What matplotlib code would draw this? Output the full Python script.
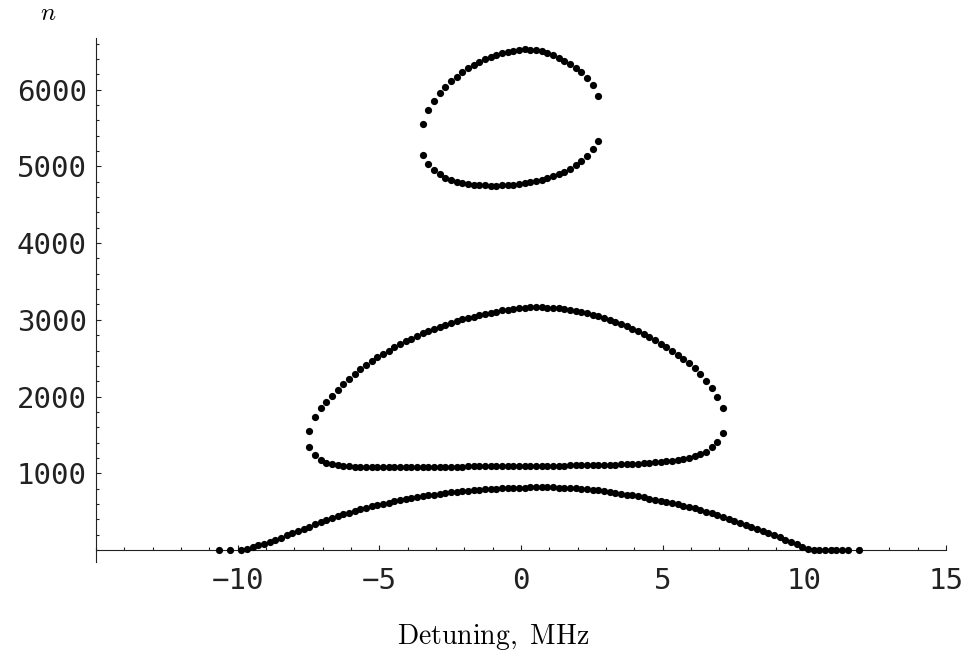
import numpy as np
import matplotlib.pyplot as plt
from matplotlib.ticker import MultipleLocator

plt.rcParams['mathtext.fontset'] = 'cm'

# detuning grid step (MHz)
STEP = 0.2

# lower branch: n vs detuning, first point at -9.87 MHz
bottom_x0 = -9.87
bottom_n = [
    3, 18, 38, 60, 84, 108, 134, 161, 189, 217,
    246, 275, 304, 333, 361, 389, 415, 440, 464, 487,
    508, 530, 551, 568, 585, 602, 618, 634, 649, 662,
    675, 687, 699, 711, 722, 732, 741, 750, 758, 766,
    773, 779, 785, 790, 795, 799, 803, 806, 809, 812,
    814, 816, 817, 817, 817, 815, 812, 809, 806, 802,
    797, 791, 784, 776, 767, 757, 746, 735, 723, 710,
    697, 684, 670, 656, 641, 626, 610, 594, 577, 559,
    541, 521, 501, 479, 456, 432, 408, 383, 356, 329,
    302, 275, 248, 221, 193, 164, 135, 105, 72, 42,
    18, 5, 0, 0, 0, 0, 0, 0,
]

# isolated zero points
flat_x = [-10.67, -10.27, 11.93]
flat_n = [0, 0, 0]

# middle loop, first point at -7.47 MHz
mid_x0 = -7.47
mid_upper = [
    1552, 1735, 1845, 1930, 2010, 2086, 2162, 2230, 2293, 2353,
    2410, 2460, 2510, 2556, 2600, 2642, 2682, 2720, 2756, 2790,
    2826, 2856, 2885, 2912, 2938, 2962, 2985, 3006, 3025, 3043,
    3060, 3076, 3094, 3108, 3122, 3134, 3144, 3152, 3158, 3162,
    3164, 3163, 3160, 3155, 3148, 3139, 3128, 3115, 3100, 3084,
    3066, 3046, 3024, 3000, 2974, 2946, 2916, 2884, 2850, 2813,
    2774, 2732, 2688, 2641, 2591, 2540, 2488, 2432, 2368, 2295,
    2208, 2113, 2000, 1848,
]
mid_lower = [
    1340, 1232, 1172, 1138, 1118, 1105, 1096, 1090, 1085, 1082,
    1080, 1078, 1077, 1076, 1076, 1076, 1077, 1078, 1079, 1080,
    1081, 1082, 1083, 1084, 1085, 1086, 1087, 1088, 1089, 1090,
    1091, 1092, 1093, 1093, 1094, 1095, 1095, 1096, 1097, 1097,
    1098, 1098, 1099, 1100, 1100, 1101, 1102, 1103, 1104, 1105,
    1106, 1108, 1110, 1112, 1114, 1116, 1119, 1122, 1126, 1130,
    1135, 1141, 1148, 1156, 1165, 1176, 1189, 1204, 1222, 1245,
    1282, 1340, 1412, 1522,
]

# top loop, first point at -3.47 MHz
top_x0 = -3.47
top_upper = [
    5555, 5734, 5855, 5955, 6033, 6107, 6172, 6229, 6280, 6325,
    6365, 6400, 6430, 6455, 6475, 6492, 6508, 6518, 6524, 6522,
    6515, 6498, 6474, 6447, 6414, 6376, 6330, 6281, 6225, 6151,
    6060, 5916,
]
top_lower = [
    5147, 5029, 4951, 4895, 4855, 4825, 4800, 4785, 4772, 4762,
    4755, 4752, 4750, 4750, 4752, 4756, 4762, 4770, 4780, 4792,
    4806, 4823, 4843, 4870, 4898, 4930, 4970, 5020, 5073, 5138,
    5225, 5333,
]

x_ticks = [-10, -5, 0, 5, 10, 15]
y_ticks = [1000, 2000, 3000, 4000, 5000, 6000]


def grid(x0, values):
    return x0 + STEP * np.arange(len(values))


fig = plt.figure(figsize=(9.66, 6.59), dpi=100)
ax = fig.add_axes([96 / 966, 1 - 561.7 / 659, 850 / 966, (561.7 - 38.3) / 659])

dot = dict(linestyle='none', marker='o', color='black', ms=5.2, mew=0,
           zorder=3, clip_on=False)
ax.plot(grid(bottom_x0, bottom_n), bottom_n, **dot)
ax.plot(flat_x, flat_n, **dot)
ax.plot(grid(mid_x0, mid_upper), mid_upper, **dot)
ax.plot(grid(mid_x0, mid_lower), mid_lower, **dot)
ax.plot(grid(top_x0, top_upper), top_upper, **dot)
ax.plot(grid(top_x0, top_lower), top_lower, **dot)

ax.set_xlim(-15, 15)
ax.set_ylim(-153, 6670)

# axes cross at (-15, 0), no frame
ax.spines['top'].set_visible(False)
ax.spines['right'].set_visible(False)
ax.spines['bottom'].set_position(('data', 0))
for s in ('left', 'bottom'):
    ax.spines[s].set_linewidth(0.8)
    ax.spines[s].set_color('#222222')

ax.set_xticks(x_ticks)
ax.set_yticks(y_ticks)
ax.xaxis.set_minor_locator(MultipleLocator(1))
ax.yaxis.set_minor_locator(MultipleLocator(200))
ax.tick_params(which='both', direction='in', width=0.8, color='#222222')
ax.tick_params(which='major', length=3.6)
ax.tick_params(which='minor', length=2.3)
ax.tick_params(axis='x', which='major', pad=12)
ax.tick_params(axis='y', which='major', pad=6.5)
for lab in ax.get_xticklabels() + ax.get_yticklabels():
    lab.set_fontfamily('DejaVu Sans Mono')
    lab.set_fontsize(21)
    lab.set_color('#222222')

fig.text(493.5 / 966, (659 - 644) / 659, r'$\mathrm{Detuning,\ MHz}$',
         ha='center', va='baseline', fontsize=20)
fig.text(48 / 966, (659 - 20) / 659, r'$n$', ha='center', va='baseline',
         fontsize=18)

fig.savefig('out.png', dpi=100)
